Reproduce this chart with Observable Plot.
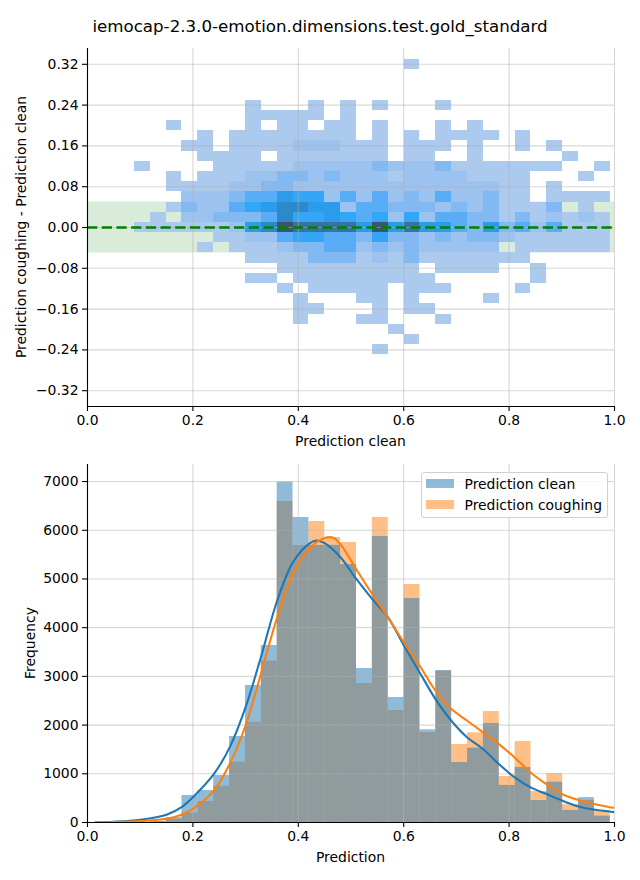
<!DOCTYPE html>
<html><head><meta charset="utf-8">
<script src="https://cdn.jsdelivr.net/npm/d3@7"></script>
<script src="https://cdn.jsdelivr.net/npm/@observablehq/plot@0.6"></script>
<style>
body{margin:0;background:#fff;}
#fig{position:relative;width:640px;height:880px;font-family:"DejaVu Sans",sans-serif;color:#000;overflow:hidden;}
#title{position:absolute;left:0;top:17px;width:640px;text-align:center;font-size:16.67px;line-height:20px;}
#p1{position:absolute;left:0;top:0;}
#p2{position:absolute;left:0;top:450px;}
#legend{position:absolute;left:420.5px;top:471.5px;width:185.5px;height:44.5px;border:1px solid #d0d0d0;border-radius:3px;background:rgba(255,255,255,0.8);font-size:13.9px;}
.sw{position:absolute;left:4.5px;width:27.8px;height:9.8px;opacity:0.5;}
.lt{position:absolute;left:43px;line-height:16px;white-space:nowrap;}
</style></head><body>
<div id="fig">
  <div id="p1"></div>
  <div id="p2"></div>
  <div id="title">iemocap-2.3.0-emotion.dimensions.test.gold_standard</div>
  <div id="legend">
    <div class="sw" style="top:6px;background:#1f77b4"></div><div class="lt" style="top:3.5px">Prediction clean</div>
    <div class="sw" style="top:27px;background:#ff7f0e"></div><div class="lt" style="top:24.5px">Prediction coughing</div>
  </div>
</div>
<script>
// ---------------- DATA ----------------
const binEdges = [0.0890,0.1191,0.1492,0.1793,0.2094,0.2395,0.2696,0.2997,0.3298,0.3599,0.3900,0.4201,0.4502,0.4803,0.5104,0.5405,0.5706,0.6007,0.6308,0.6609,0.6910,0.7211,0.7512,0.7813,0.8114,0.8415,0.8716,0.9017,0.9318,0.9619,0.9920];
const countClean    = [5,25,100,554,657,965,1766,2812,3634,6990,6262,5690,5690,5297,3161,5871,2566,4599,1903,3120,1232,1526,2033,760,1129,452,828,246,510,130];
const countCoughing = [3,15,70,191,431,746,1239,2060,3312,6590,5687,6180,5851,5748,2853,6262,2299,4886,1848,3110,1601,1841,2279,944,1663,636,1003,366,452,246];

const kdeCleanX = [0.015,0.05,0.1,0.15,0.18,0.2,0.24,0.27,0.30,0.33,0.36,0.39,0.42,0.435,0.45,0.48,0.51,0.54,0.57,0.60,0.63,0.66,0.69,0.72,0.75,0.78,0.81,0.84,0.87,0.90,0.93,0.96,0.99,1.0];
const kdeCleanY = [5,15,55,160,328,520,1000,1547,2368,3430,4558,5345,5722,5790,5735,5447,5000,4592,4215,3640,3086,2539,2094,1752,1513,1205,930,725,589,452,335,267,226,212];
const kdeCoughX = [0.015,0.05,0.1,0.15,0.18,0.2,0.24,0.27,0.30,0.33,0.36,0.39,0.42,0.45,0.465,0.48,0.51,0.54,0.57,0.60,0.63,0.66,0.69,0.72,0.75,0.78,0.81,0.84,0.87,0.90,0.93,0.96,0.99,1.0];
const kdeCoughY = [2,8,30,75,164,280,657,1205,1991,3086,4215,5106,5619,5840,5850,5710,5200,4695,4215,3700,3223,2710,2334,2094,1854,1615,1341,1033,794,589,466,384,315,301];

// 2D histogram: y bin centres (bin height 0.02) and per-row shade levels for the 30 x bins
const heatRowY = [0.32,0.30,0.28,0.26,0.24,0.22,0.20,0.18,0.16,0.14,0.12,0.10,0.08,0.06,0.04,0.02,0.00,-0.02,-0.04,-0.06,-0.08,-0.10,-0.12,-0.14,-0.16,-0.18,-0.20,-0.22,-0.24];
const heatRows = [
"00000 00000 00000 00100 00000 00000",
"00000 00000 00000 00000 00000 00000",
"00000 00000 00000 00000 00000 00000",
"00000 00000 00000 00000 00000 00000",
"00000 00100 01010 10001 00000 00000",
"00000 00111 11010 00000 00000 00000",
"00100 00101 10110 10001 01000 00000",
"00001 01111 11110 10101 11101 00000",
"00011 01111 22211 10111 01001 01000",
"00001 11101 11111 10110 01000 00100",
"10000 11111 22222 32223 11111 11001",
"00101 11223 32322 21222 21111 00010",
"00111 12233 22222 22222 22211 01000",
"00022 23446 55242 42324 22311 01111",
"00132 24567 76624 43332 32311 13010",
"01022 33347 55654 52524 43313 12121",
"11111 12679 88886 96866 43634 24111",
"00000 11224 55443 53323 23321 11111",
"00001 01112 33442 32322 22201 11111",
"00000 00111 13331 21311 11111 00000",
"00000 00001 11111 11101 11100 10000",
"00000 00110 11111 11110 00000 10000",
"00000 00001 01111 10111 00001 00000",
"00000 00000 10001 10100 00100 00000",
"00000 00000 11000 10110 00000 00000",
"00000 00000 10001 10001 00000 00000",
"00000 00000 00000 01000 00000 00000",
"00000 00000 00000 00100 00000 00000",
"00000 00000 00000 10000 00000 00000"];
const shadeCount = [0,20,230,480,850,1050,1300,1800,2400,3200];

const bandLimits = [-0.05, 0.05];
const xTicks = [0,0.2,0.4,0.6,0.8,1.0];
const yTicksTop = [-0.32,-0.24,-0.16,-0.08,0,0.08,0.16,0.24,0.32];
const yTicksBottom = [0,1000,2000,3000,4000,5000,6000,7000];

// ---------------- colormap (seaborn light->dark ramp from C0, in HUSL) ----------------
const M=[[3.240969941904521,-1.537383177570093,-0.498610760293],[-0.96924363628087,1.87596750150772,0.041555057407175],[0.055630079696993,-0.20397695888897,1.056971514242878]];
const MI=[[0.41239079926595,0.35758433938387,0.18048078840183],[0.21263900587151,0.71516867876775,0.072192315360733],[0.019330818715591,0.11919477979462,0.95053215224966]];
const refU=0.19783000664283, refV=0.46831999493879, kappa=903.2962962, eps=0.0088564516;
function bounds(L){const s1=Math.pow(L+16,3)/1560896;const s2=s1>eps?s1:L/kappa;const out=[];for(const [m1,m2,m3] of M){for(const t of [0,1]){const top1=(284517*m1-94839*m3)*s2;const top2=(838422*m3+769860*m2+731718*m1)*L*s2-769860*t*L;const bot=(632260*m3-126452*m2)*s2+126452*t;out.push([top1/bot,top2/bot]);}}return out;}
function maxC(L,H){const hr=H/360*2*Math.PI;let mn=Infinity;for(const [sl,ic] of bounds(L)){const len=ic/(Math.sin(hr)-sl*Math.cos(hr));if(len>=0&&len<mn)mn=len;}return mn;}
const fromLin=c=>c<=0.0031308?12.92*c:1.055*Math.pow(c,1/2.4)-0.055;
const toLin=c=>c>0.04045?Math.pow((c+0.055)/1.055,2.4):c/12.92;
function husl2rgb(H,S,L){if(L>99.9999999)return[1,1,1];if(L<1e-8)return[0,0,0];const C=maxC(L,H)/100*S;const hr=H/360*2*Math.PI;const U=Math.cos(hr)*C,V=Math.sin(hr)*C;const vu=U/(13*L)+refU,vv=V/(13*L)+refV;const Y=L<=8?L/kappa:Math.pow((L+16)/116,3);const X=-(9*Y*vu)/((vu-4)*vv-vu*vv);const Z=(9*Y-15*vv*Y-vv*X)/(3*vv);return M.map(r=>fromLin(r[0]*X+r[1]*Y+r[2]*Z));}
function rgb2husl(r,g,b){const l=[r,g,b].map(toLin);const [X,Y,Z]=MI.map(m=>m[0]*l[0]+m[1]*l[1]+m[2]*l[2]);const L=Y<=eps?Y*kappa:116*Math.cbrt(Y)-16;const d=X+15*Y+3*Z;const U=13*L*(4*X/d-refU),V=13*L*(9*Y/d-refV);const C=Math.hypot(U,V);let H=Math.atan2(V,U)*180/Math.PI;if(H<0)H+=360;return[H,C/maxC(L,H)*100,L];}
const [hC0,sC0]=rgb2husl(31/255,119/255,180/255);
const ramp=[];for(let i=0;i<256;i++){const xx=-1+2*i/293;const L=35+45*i/255;const c=husl2rgb(hC0,sC0*Math.cos(xx),L).map(v=>Math.round(255*Math.max(0,Math.min(1,v))));ramp.push(`rgb(${c[0]},${c[1]},${c[2]})`);}
ramp.reverse();

// ---------------- tables ----------------
const cells=[];
heatRows.forEach((row,ri)=>{const lv=row.replace(/ /g,"");for(let k=0;k<lv.length;k++){const n=+lv[k];if(n>0)cells.push({x1:binEdges[k],x2:binEdges[k+1],y1:heatRowY[ri]-0.01,y2:heatRowY[ri]+0.01,count:shadeCount[n]});}});
const vmin=d3.min(cells,d=>d.count), vmax=d3.max(cells,d=>d.count);
const cmap=v=>ramp[Math.max(0,Math.min(255,Math.floor((v-vmin)/(vmax-vmin)*256)))];
const hist=countClean.map((c,i)=>({x1:binEdges[i],x2:binEdges[i+1],clean:c,cough:countCoughing[i]}));
const kdeClean=kdeCleanX.map((x,i)=>({x,y:kdeCleanY[i]}));
const kdeCough=kdeCoughX.map((x,i)=>({x,y:kdeCoughY[i]}));

const style={fontFamily:'"DejaVu Sans", sans-serif',fontSize:"13.9px",color:"#000",background:"transparent",overflow:"visible"};
const grid={stroke:"#b0b0b0",strokeOpacity:0.5,strokeWidth:1.1};
const yTopDom=[-0.351,0.351];

const p1=Plot.plot({
  width:640,height:450,marginLeft:87,marginRight:26,marginTop:48,marginBottom:44,style,
  x:{domain:[0,1]},y:{domain:yTopDom},
  marks:[
    Plot.rect([bandLimits],{x1:()=>0,x2:()=>1,y1:d=>d[0],y2:d=>d[1],fill:"green",fillOpacity:0.15}),
    Plot.rect(cells,{x1:"x1",x2:"x2",y1:"y1",y2:"y2",fill:d=>cmap(d.count),shapeRendering:"crispEdges"}),
    Plot.ruleX(xTicks,grid),
    Plot.ruleY(yTicksTop,grid),
    Plot.ruleY([0],{stroke:"#008000",strokeWidth:2.4,strokeDasharray:"10.3,4.4"}),
    Plot.axisX({ticks:xTicks,tickFormat:d3.format(".1f"),tickSize:5,tickPadding:4,label:null,strokeWidth:1.1}),
    Plot.axisY({ticks:yTicksTop,tickFormat:d3.format(".2f"),tickSize:5,tickPadding:4,label:null,strokeWidth:1.1}),
    Plot.ruleX([0],{stroke:"#000",strokeWidth:1.1}),
    Plot.ruleY([yTopDom[0]],{stroke:"#000",strokeWidth:1.1})
  ]
});
document.getElementById("p1").append(p1);

const p2=Plot.plot({
  width:640,height:430,marginLeft:87,marginRight:26,marginTop:14,marginBottom:58,style,
  x:{domain:[0,1]},y:{domain:[0,7350]},
  marks:[
    Plot.rectY(hist,{x1:"x1",x2:"x2",y:"cough",fill:"#ff7f0e",fillOpacity:0.5,inset:0}),
    Plot.rectY(hist,{x1:"x1",x2:"x2",y:"clean",fill:"#1f77b4",fillOpacity:0.5,inset:0}),
    Plot.ruleX(xTicks,grid),
    Plot.ruleY(yTicksBottom,grid),
    Plot.line(kdeClean,{x:"x",y:"y",stroke:"#1f77b4",strokeWidth:2.08,curve:"catmull-rom",clip:true}),
    Plot.line(kdeCough,{x:"x",y:"y",stroke:"#ff7f0e",strokeWidth:2.08,curve:"catmull-rom",clip:true}),
    Plot.axisX({ticks:xTicks,tickFormat:d3.format(".1f"),tickSize:5,tickPadding:4,label:null,strokeWidth:1.1}),
    Plot.axisY({ticks:yTicksBottom,tickFormat:d3.format("d"),tickSize:5,tickPadding:4,label:null,strokeWidth:1.1}),
    Plot.ruleX([0],{stroke:"#000",strokeWidth:1.1}),
    Plot.ruleY([0],{stroke:"#000",strokeWidth:1.1})
  ]
});
document.getElementById("p2").append(p2);

function addLabel(svg,txt,x,y,rot){const t=d3.select(svg).append("text").attr("text-anchor","middle").attr("font-size","13.9px").attr("fill","#000").text(txt);
  if(rot){t.attr("transform",`translate(${x},${y}) rotate(-90)`).attr("dy","0.35em");}else{t.attr("x",x).attr("y",y);}}
addLabel(p1,"Prediction clean",350.5,446,false);
addLabel(p1,"Prediction coughing - Prediction clean",21,227,true);
addLabel(p2,"Prediction",350.5,412,false);
addLabel(p2,"Frequency",30,193,true);
</script>
</body></html>
